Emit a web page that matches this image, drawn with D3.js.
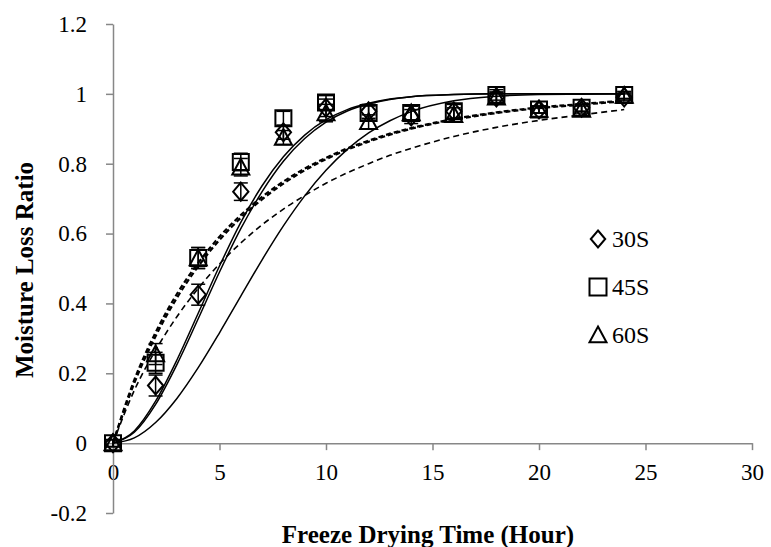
<!DOCTYPE html>
<html>
<head>
<meta charset="utf-8">
<script src="https://cdn.jsdelivr.net/npm/d3@7"></script>
<style>
  body { margin: 0; background: #fff; }
  text { font-family: 'Liberation Serif', 'Times New Roman', serif; fill: #000; }
</style>
</head>
<body>
<div id="chart"></div>
<script>
// 测量时间点 (小时)
const hours = [0, 2, 4, 6, 8, 10, 12, 14, 16, 18, 20, 22, 24];

// 三组实测值 + 误差
const s30 = [0, 0.165, 0.425, 0.72, 0.89, 0.96, 0.95, 0.935, 0.95, 0.99, 0.955, 0.96, 0.99];
const s45 = [0, 0.23, 0.53, 0.805, 0.93, 0.975, 0.945, 0.945, 0.95, 0.997, 0.955, 0.96, 0.997];
const s60 = [0, 0.255, 0.53, 0.79, 0.875, 0.945, 0.92, 0.945, 0.94, 0.99, 0.955, 0.955, 0.995];
const e30 = [0.01, 0.03, 0.03, 0.025, 0.02, 0.025, 0.02, 0.02, 0.02, 0.015, 0.01, 0.01, 0.01];
const e45 = [0.01, 0.03, 0.03, 0.025, 0.02, 0.02, 0.02, 0.02, 0.02, 0.015, 0.01, 0.01, 0.01];
const e60 = [0.01, 0.03, 0.03, 0.025, 0.02, 0.025, 0.02, 0.02, 0.02, 0.015, 0.01, 0.01, 0.01];

// 拟合曲线
const fitHours = [0, 1, 2, 3, 4, 5, 6, 7, 8, 9, 10, 11, 12, 13, 14, 16, 18, 20, 22, 24];
const solidA = [0, 0.031, 0.111, 0.225, 0.356, 0.49, 0.614, 0.72, 0.807, 0.872, 0.919, 0.951, 0.971, 0.984, 0.992, 0.998, 1, 1, 1, 1];
const solidB = [0, 0.035, 0.12, 0.238, 0.372, 0.507, 0.632, 0.737, 0.82, 0.882, 0.926, 0.955, 0.973, 0.985, 0.992, 0.998, 1, 1, 1, 1];
const solidC = [0, 0.015, 0.059, 0.128, 0.216, 0.316, 0.421, 0.525, 0.622, 0.708, 0.781, 0.841, 0.888, 0.923, 0.949, 0.98, 0.993, 0.998, 0.999, 1];
const dashD = [0, 0.181, 0.317, 0.427, 0.516, 0.591, 0.653, 0.705, 0.749, 0.786, 0.817, 0.844, 0.866, 0.886, 0.902, 0.928, 0.947, 0.961, 0.971, 0.981];
const dashE = [0, 0.172, 0.306, 0.416, 0.506, 0.582, 0.645, 0.698, 0.743, 0.781, 0.813, 0.84, 0.863, 0.883, 0.9, 0.926, 0.945, 0.959, 0.969, 0.979];
const dashF = [0, 0.151, 0.266, 0.362, 0.443, 0.513, 0.573, 0.625, 0.67, 0.709, 0.744, 0.774, 0.8, 0.824, 0.844, 0.878, 0.904, 0.924, 0.94, 0.955];

// 坐标轴刻度
const xTicks = [0, 5, 10, 15, 20, 25, 30];
const yTicks = [-0.2, 0, 0.2, 0.4, 0.6, 0.8, 1, 1.2];
const legendNames = ['30S', '45S', '60S'];

const W = 771, H = 547;
const axisColor = '#878787';
const serif = "'Liberation Serif', 'Times New Roman', serif";

const svg = d3.select('#chart').append('svg').attr('width', W).attr('height', H);

const x = d3.scaleLinear().domain([0, 30]).range([113, 752]);
const y = d3.scaleLinear().domain([-0.2, 1.2]).range([513, 24]);

//x轴
const gx = svg.append('g')
    .attr('transform', `translate(0,${y(0)})`)
    .call(d3.axisBottom(x).tickValues(xTicks).tickSize(7).tickSizeOuter(0).tickPadding(14).tickFormat(d3.format('d')));
//y轴
const gy = svg.append('g')
    .attr('transform', `translate(${x(0)},0)`)
    .call(d3.axisLeft(y).tickValues(yTicks).tickSize(7).tickSizeOuter(0).tickPadding(19)
        .tickFormat(d => d === 0 ? '0' : String(+d.toFixed(1))));

[gx, gy].forEach(g => {
    g.select('.domain').attr('stroke', axisColor).attr('stroke-width', 1.5);
    g.selectAll('.tick line').attr('stroke', axisColor).attr('stroke-width', 1.5);
    g.selectAll('.tick text').style('font-size', '23px')
        .style('font-family', serif).attr('fill', '#000');
});

//坐标轴标题
svg.append('text')
    .attr('x', 428).attr('y', 543)
    .attr('text-anchor', 'middle')
    .style('font-size', '25px').style('font-weight', 'bold')
    .text('Freeze Drying Time (Hour)');
svg.append('text')
    .attr('transform', 'translate(33,270) rotate(-90)')
    .attr('text-anchor', 'middle')
    .style('font-size', '25px').style('font-weight', 'bold')
    .text('Moisture Loss Ratio');

//拟合曲线
const line = d3.line().x(d => x(d[0])).y(d => y(d[1])).curve(d3.curveMonotoneX);
const fits = [
    { v: solidA, dash: null, w: 1.5 },
    { v: solidB, dash: null, w: 1.5 },
    { v: solidC, dash: null, w: 1.5 },
    { v: dashD, dash: '5,3', w: 2.2 },
    { v: dashE, dash: '5,3', w: 2.2 },
    { v: dashF, dash: '6,4', w: 1.6 }
];
fits.forEach(f => {
    svg.append('path')
        .attr('d', line(fitHours.map((h, i) => [h, f.v[i]])))
        .attr('fill', 'none')
        .attr('stroke', '#000')
        .attr('stroke-width', f.w)
        .attr('stroke-dasharray', f.dash);
});

//点的形状
function markerPath(type, s) {
    if (type === 'diamond') return `M0,${-s}L${s * 0.85},0L0,${s}L${-s * 0.85},0Z`;
    if (type === 'square') return `M${-s},${-s}H${s}V${s}H${-s}Z`;
    return `M0,${-s}L${s},${s * 0.85}H${-s}Z`;
}

const series = [
    { vals: s30, errs: e30, type: 'diamond', size: 9 },
    { vals: s45, errs: e45, type: 'square', size: 8 },
    { vals: s60, errs: e60, type: 'triangle', size: 8.5 }
];

series.forEach(s => {
    const g = svg.append('g');
    hours.forEach((h, i) => {
        const cx = x(h), lo = y(s.vals[i] - s.errs[i]), hi = y(s.vals[i] + s.errs[i]);
        g.append('line').attr('x1', cx).attr('x2', cx).attr('y1', lo).attr('y2', hi)
            .attr('stroke', '#000').attr('stroke-width', 1.5);
        [lo, hi].forEach(yy => {
            g.append('line').attr('x1', cx - 7).attr('x2', cx + 7).attr('y1', yy).attr('y2', yy)
                .attr('stroke', '#000').attr('stroke-width', 1.5);
        });
        g.append('path')
            .attr('d', markerPath(s.type, s.size))
            .attr('transform', `translate(${cx},${y(s.vals[i])})`)
            .attr('fill', 'none').attr('stroke', '#000').attr('stroke-width', 2);
    });
});

//图例
const legend = svg.append('g').attr('transform', 'translate(598,239)');
series.forEach((s, i) => {
    const row = legend.append('g').attr('transform', `translate(0,${i * 48})`);
    row.append('path').attr('d', markerPath(s.type, 8.5))
        .attr('fill', 'none').attr('stroke', '#000').attr('stroke-width', 2);
    row.append('text').attr('x', 14).attr('y', 8)
        .style('font-size', '24px').text(legendNames[i]);
});
</script>
</body>
</html>
